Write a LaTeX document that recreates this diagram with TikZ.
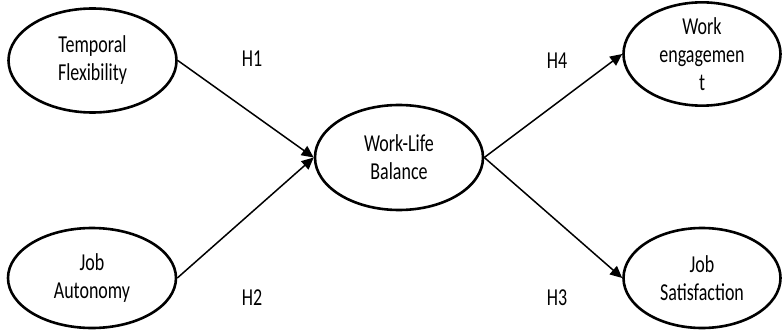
\documentclass[tikz,border=0pt]{standalone}
\usepackage{fontspec}
\setmainfont{Carlito}
\newfontfamily\tallfont[FakeStretch=0.74]{Carlito}
\usetikzlibrary{shapes.geometric,arrows.meta}
\tikzset{
  construct/.style={ellipse, draw=black, line width=2.6pt, inner sep=0pt, align=center,
    font=\tallfont\fontsize{24.3}{28}\selectfont},
  link/.style={line width=1.5pt, -{Triangle[length=12pt,width=11pt]}},
  hyp/.style={font=\tallfont\fontsize{24.3}{26}\selectfont}
}
\begin{document}
\begin{tikzpicture}[x=1pt,y=-1pt]
\useasboundingbox (0,0) rectangle (783,331);
\node[construct, minimum width=168pt, minimum height=104pt] (tf) at (92.5,60.5) {Temporal\\Flexibility};
\node[construct, minimum width=168pt, minimum height=100pt] (ja) at (92,278) {Job\\Autonomy};
\node[construct, minimum width=168pt, minimum height=105pt] (wlb) at (399,157.5) {Work-Life\\Balance};
\node[construct, minimum width=157pt, minimum height=93pt] (we) at (702,54) {Work\\engagemen\\t};
\node[construct, minimum width=157pt, minimum height=100pt] (js) at (702,278) {Job\\Satisfaction};
\draw[link] (tf.east) -- (wlb.west);
\draw[link] (ja.east) -- (wlb.west);
\draw[link] (wlb.east) -- (we.west);
\draw[link] (wlb.east) -- (js.west);
\node[hyp] (h1) at (252,59) {H1};
\node[hyp] (h2) at (252,298) {H2};
\node[hyp] (h4) at (557,61) {H4};
\node[hyp] (h3) at (557,298) {H3};
\end{tikzpicture}
\end{document}
